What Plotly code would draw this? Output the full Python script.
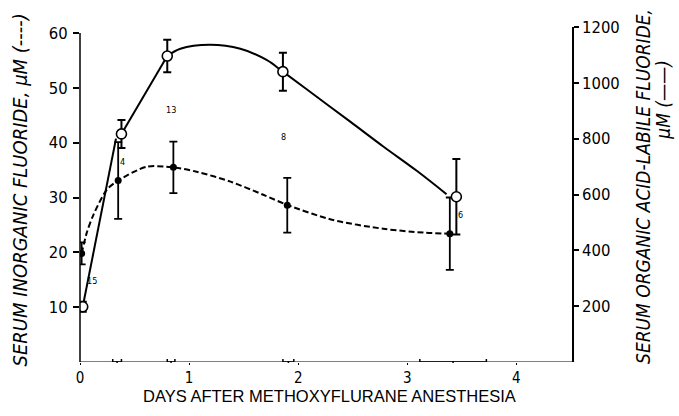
import plotly.graph_objects as go

# ---- data ----
days_inorg = [0.015, 0.35, 0.856, 1.90, 3.39]
inorganic = [19.8, 33.1, 35.5, 28.6, 23.4]
inorganic_err = [2.0, 7.0, 4.7, 5.0, 6.6]

days_org = [0.025, 0.38, 0.80, 1.86, 3.45]
organic = [198, 817, 1096, 1040, 592]
organic_err = [18, 50, 58, 68, 135]

# fitted curves
inorg_curve_x = [0.015, 0.061, 0.122, 0.245, 0.35, 0.61, 0.856, 1.07, 1.38, 1.68, 1.905, 2.32, 2.78, 3.15, 3.39]
inorg_curve_y = [19.8, 23.5, 26.8, 31.4, 33.1, 35.6, 35.5, 34.7, 32.9, 30.5, 28.6, 25.9, 24.3, 23.6, 23.4]

org_seg_x = [0.025, 0.33, None, 0.38, 0.80]
org_seg_y = [198, 800, None, 817, 1096]
org_curve_x = [0.80, 0.92, 1.19, 1.47, 1.71, 1.86, 2.17, 2.48, 2.78, 3.09, 3.36]
org_curve_y = [1096, 1122, 1136, 1122, 1082, 1040, 950, 860, 772, 684, 601]

# time spread of sampling (horizontal bars on the day axis)
time_centers = [0.34, 0.835, 1.91, 3.42]
time_err = [0.04, 0.035, 0.05, 0.305]

n_labels = ["15", "4", "13", "8", "6"]
n_x = [0.107, 0.39, 0.83, 1.865, 3.49]
n_y = [14.7, 36.4, 46, 41, 26.8]

x_ticks = [0, 1, 2, 3, 4]
left_ticks = [10, 20, 30, 40, 50, 60]
right_ticks = [200, 400, 600, 800, 1000, 1200]

FONT = "Liberation Sans Narrow, DejaVu Sans Condensed, Arial Narrow, sans-serif"
FONT_X = "Liberation Sans, Arial, sans-serif"

fig = go.Figure()

# organic (solid) on right axis
fig.add_trace(go.Scatter(x=org_seg_x, y=org_seg_y, mode="lines", yaxis="y2",
                         line=dict(color="black", width=2), connectgaps=False,
                         showlegend=False, hoverinfo="skip"))
fig.add_trace(go.Scatter(x=org_curve_x, y=org_curve_y, mode="lines", yaxis="y2",
                         line=dict(color="black", width=2, shape="spline", smoothing=1.0),
                         showlegend=False, hoverinfo="skip"))

# inorganic (dashed) on left axis
fig.add_trace(go.Scatter(x=inorg_curve_x, y=inorg_curve_y, mode="lines",
                         line=dict(color="black", width=2, dash="6px,3px", shape="spline", smoothing=0.8),
                         showlegend=False, hoverinfo="skip"))
fig.add_trace(go.Scatter(x=days_inorg, y=inorganic, mode="markers",
                         marker=dict(color="black", size=7),
                         error_y=dict(type="data", array=inorganic_err, color="black", thickness=1.8, width=4),
                         showlegend=False))

fig.add_trace(go.Scatter(x=days_org, y=organic, mode="markers", yaxis="y2",
                         marker=dict(color="white", size=10, line=dict(color="black", width=1.6)),
                         error_y=dict(type="data", array=organic_err, color="black", thickness=2, width=4),
                         showlegend=False))

# horizontal time bars on the axis
fig.add_trace(go.Scatter(x=time_centers, y=[0] * len(time_centers), mode="markers",
                         marker=dict(color="black", size=2),
                         error_x=dict(type="data", array=time_err, color="black", thickness=1.5, width=3),
                         showlegend=False, cliponaxis=False))

# n labels
for t, xx, yy in zip(n_labels, n_x, n_y):
    fig.add_annotation(x=xx, y=yy, text=t, showarrow=False,
                       font=dict(family=FONT, size=9, color="black"))

# axis lines as shapes
fig.add_shape(type="line", xref="paper", yref="y", x0=0, x1=0, y0=0, y1=60,
              line=dict(color="black", width=1.5))
fig.add_shape(type="line", xref="paper", yref="y", x0=0, x1=1, y0=0, y1=0,
              line=dict(color="black", width=1.2))

# titles
fig.add_annotation(xref="paper", yref="paper", x=-0.122, y=0.515, textangle=-90,
                   xanchor="center", yanchor="middle",
                   text="<i>SERUM INORGANIC FLUORIDE, μM (----)</i>", showarrow=False,
                   font=dict(family=FONT, size=20, color="black"))
fig.add_annotation(xref="paper", yref="paper", x=1.144, y=0.525, textangle=-90,
                   xanchor="center", yanchor="middle",
                   text="<i>SERUM ORGANIC ACID-LABILE FLUORIDE,</i>", showarrow=False,
                   font=dict(family=FONT, size=19, color="black"))
fig.add_annotation(xref="paper", yref="paper", x=1.185, y=0.783, textangle=-90,
                   xanchor="center", yanchor="middle",
                   text="<i>μM (——)</i>", showarrow=False,
                   font=dict(family=FONT, size=19, color="black"))
fig.add_annotation(xref="paper", yref="paper", x=0.508, y=-0.1015,
                   xanchor="center", yanchor="middle",
                   text="DAYS AFTER METHOXYFLURANE ANESTHESIA", showarrow=False,
                   font=dict(family=FONT_X, size=16.5, color="black"))

fig.update_layout(
    width=679, height=416,
    margin=dict(l=80, r=107, t=27, b=54, autoexpand=False),
    paper_bgcolor="white", plot_bgcolor="white",
    font=dict(family=FONT, size=16.5, color="black"),
    xaxis=dict(range=[0, 4.51], tickvals=x_ticks, ticks="outside", ticklen=2,
               tickwidth=1.2, tickcolor="black", showgrid=False, zeroline=False,
               showline=False, ticklabelstandoff=0, tickfont=dict(size=15)),
    yaxis=dict(range=[0, 61.1], tickvals=left_ticks, ticks="outside", ticklen=6,
               tickwidth=1.5, tickcolor="black", showgrid=False, zeroline=False,
               showline=False, ticklabelstandoff=2),
    yaxis2=dict(range=[0, 1200], tickvals=right_ticks, overlaying="y", side="right",
                ticks="outside", ticklen=5, tickwidth=1.5, tickcolor="black",
                showgrid=False, zeroline=False, showline=True, linecolor="black",
                linewidth=1.5),
)

fig.write_html("out.html", config={"displayModeBar": False},
               post_script="document.body.style.margin='0px';")
